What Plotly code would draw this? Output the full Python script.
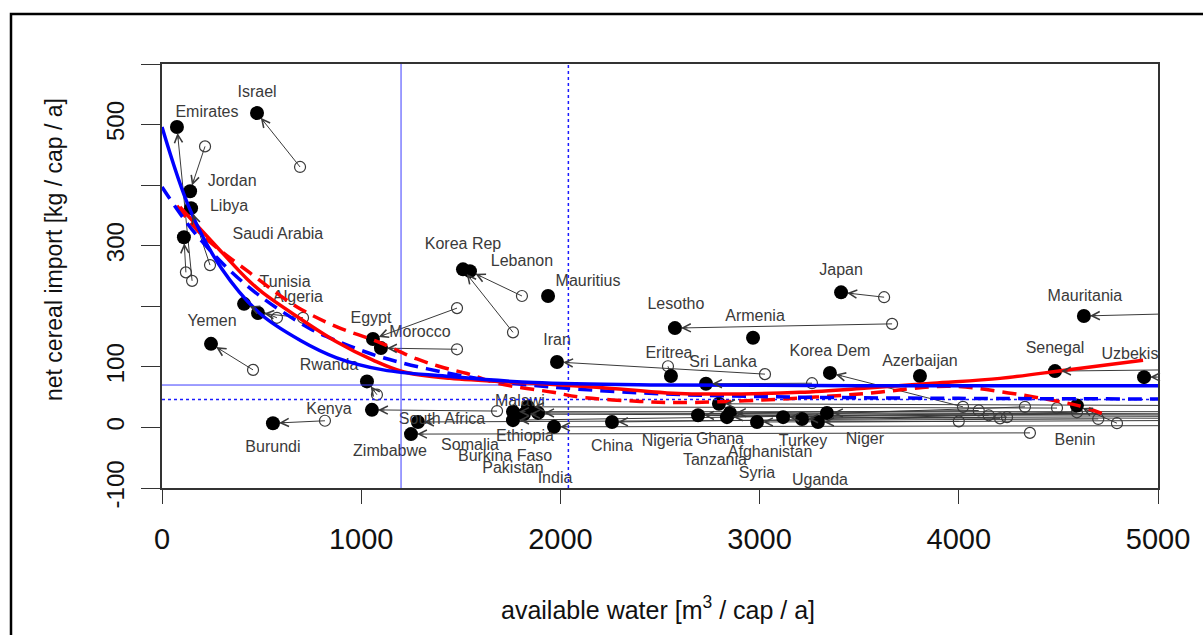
import plotly.graph_objects as go

# ---------------- data ----------------
countries = ["Emirates", "Israel", "Jordan", "Libya", "Saudi Arabia", "Tunisia", "Algeria", "Yemen",
             "Egypt", "Morocco", "Rwanda", "Kenya", "Burundi", "South Africa", "Zimbabwe",
             "Korea Rep", "Lebanon", "Mauritius", "Iran", "Lesotho", "Armenia", "Eritrea", "Sri Lanka",
             "Japan", "Korea Dem", "Azerbaijan", "Mauritania", "Senegal", "Uzbekistan", "Benin",
             "Malawi", "Somalia", "Ethiopia", "Burkina Faso", "Pakistan", "India", "China",
             "Nigeria", "Tanzania", "Ghana", " ", "Syria", "Afghanistan", "Turkey", "Uganda", "Niger"]

# current state (filled points)
water_now = [75, 477, 141, 146, 110, 412, 482, 246,
             1059, 1099, 1029, 1054, 557, 1285, 1250,
             1511, 1546, 1938, 1983, 2575, 2967, 2555, 2731,
             3409, 3353, 3805, 4628, 4483, 4930, 4593,
             1837, 1762, 1762, 1888, 1817, 1968, 2259,
             2691, 2796, 2836, 2851, 2987, 3118, 3213, 3293, 3338]
import_now = [496, 519, 390, 362, 314, 204, 189, 138,
              146, 131, 76, 29, 7, 9, -11,
              261, 258, 217, 108, 164, 148, 85, 72,
              223, 90, 85, 184, 93, 83, 36,
              34, 26, 12, 24, 22, 1, 9,
              20, 39, 17, 24, 9, 17, 14, 9, 24]

# earlier state (open points); None = not shown
water_past = [151, 693, 216, 241, 120, 577, 708, 457,
              1481, 1481, 1079, 1682, 818, 4700, 4357,
              1762, 1807, None, 3027, 3665, None, 2540, 3263,
              3625, 4021, None, 5600, 5600, 5400, 4794,
              4493, 5400, 4593, 5600, 5300, 5200, 4242,
              4207, 5300, 4332, 4100, 4000, 5200, 4150, 5500, 5700]
import_past = [242, 430, 464, 268, 256, 181, 181, 95,
               197, 129, 54, 27, 11, 14, -9,
               157, 217, None, 88, 171, None, 101, 73,
               215, 34, None, 192, 97, 84, 7,
               32, 26, 25, 20, 18, 3, 17,
               15, 36, 34, 28, 10, 15, 20, 12, 22]

# fitted curves
blue_solid_x = [0, 140, 300, 492, 693, 877, 1111, 1446, 1865, 2500, 3500, 5000]
blue_solid_y = [496, 360, 262, 188, 144, 115, 95, 84, 74, 70, 69, 69]
blue_dash_x = [0, 150, 316, 492, 743, 877, 1111, 1446, 1782, 2400, 3000, 4000, 5000]
blue_dash_y = [397, 327, 267, 217, 163, 143, 115, 89, 72, 57, 51, 48, 47]
red_solid_x = [90, 256, 427, 507, 678, 878, 1059, 1210, 1446, 1865, 2199, 2535, 2800, 3203, 3539, 3870, 4207, 4543, 4925]
red_solid_y = [364, 305, 245, 222, 183, 141, 111, 92, 81, 73, 66, 57, 55, 58, 65, 73, 81, 95, 111]
red_dash_x = [75, 200, 442, 678, 878, 1079, 1280, 1411, 1531, 1697, 1963, 2098, 2400, 2600, 3000, 3500, 3950, 4250, 4450, 4600, 4720]
red_dash_y = [366, 318, 255, 199, 166, 142, 113, 99, 89, 72, 58, 50, 43, 41, 45, 55, 68, 57, 46, 36, 23]

# reference lines
vline_solid = 1200
vline_dot = 2040
hline_solid = 70
hline_dot = 46

x_ticks = [0, 1000, 2000, 3000, 4000, 5000]
y_ticks = [-100, 0, 100, 200, 300, 400, 500, 600]
y_ticktext = ["-100", "0", "100", "", "300", "", "500", ""]

# label offsets in screen pixels relative to the filled point (style/position info)
label_dx = [30, 0, 42, 38, 94, 41, 40, 1,
            -2, 39, -38, -43, 0, 24, -21,
            0, 52, 40, 0, 1, 2, -2, 17,
            0, 0, 0, 1, 0, -3, -2,
            -8, -43, 12, -33, -11, 1, 0,
            -31, -4, -7, 0, 0, -13, 1, 2, 38]
label_dy = [-14, -20, -9, -1, -2, -21, -15, -22,
            -20, -15, -15, 0, 25, -2, 18,
            -24, -9, -14, -21, -23, -21, -22, -21,
            -21, -21, -14, -19, -22, -22, 35,
            -5, 34, 17, 44, 55, 52, 25,
            27, 57, 23, 0, 52, 36, 23, 59, 27]

# ---------------- geometry ----------------
W, H = 1203, 635
ML, MR, MT, MB = 162, 45, 64, 147
X0, X1 = 0, 5000
Y0, Y1 = -100, 600
PW, PH = W - ML - MR, H - MT - MB
PX_X = PW / (X1 - X0)
PX_Y = PH / (Y1 - Y0)

fig = go.Figure()

# arrow shafts (clipped to the plot area)
for xf, yf, xo, yo in zip(water_now, import_now, water_past, import_past):
    if xo is None:
        continue
    fig.add_trace(go.Scatter(x=[xo, xf], y=[yo, yf], mode="lines",
                             line=dict(color="#3a3a3a", width=1), hoverinfo="skip", showlegend=False))

# open points
fig.add_trace(go.Scatter(x=[v for v in water_past if v is not None],
                         y=[v for v in import_past if v is not None],
                         mode="markers",
                         marker=dict(symbol="circle-open", size=11, color="#3a3a3a", line=dict(width=1.2)),
                         hoverinfo="skip", showlegend=False))

# arrow heads
annotations = []
for xf, yf, xo, yo in zip(water_now, import_now, water_past, import_past):
    if xo is None:
        continue
    dxp = (xo - xf) * PX_X
    dyp = -(yo - yf) * PX_Y
    L = (dxp ** 2 + dyp ** 2) ** 0.5
    if L == 0:
        continue
    k = min(14, L) / L
    annotations.append(dict(x=xf, y=yf, xref="x", yref="y", ax=dxp * k, ay=dyp * k,
                            axref="pixel", ayref="pixel", text="", showarrow=True,
                            arrowhead=5, arrowsize=1.6, arrowwidth=1, arrowcolor="#3a3a3a",
                            standoff=6))

# filled points
fig.add_trace(go.Scatter(x=water_now, y=import_now, mode="markers",
                         marker=dict(symbol="circle", size=14, color="black"),
                         hoverinfo="skip", showlegend=False))

# country labels (clipped like R)
lab_x = [xf + dx / PX_X for xf, dx in zip(water_now, label_dx)]
lab_y = [yf - dy / PX_Y for yf, dy in zip(import_now, label_dy)]
fig.add_trace(go.Scatter(x=lab_x, y=lab_y, mode="text", text=countries,
                         textposition="middle center",
                         textfont=dict(family="Liberation Sans, Arial", size=16, color="#3a3a3a"),
                         hoverinfo="skip", showlegend=False))

# reference lines
fig.add_trace(go.Scatter(x=[vline_solid, vline_solid], y=[Y0, Y1], mode="lines",
                         line=dict(color="#3c3cff", width=1), hoverinfo="skip", showlegend=False))
fig.add_trace(go.Scatter(x=[vline_dot, vline_dot], y=[Y0, Y1], mode="lines",
                         line=dict(color="#1a1aff", width=1.5, dash="3px,3px"), hoverinfo="skip", showlegend=False))
fig.add_trace(go.Scatter(x=[X0, X1], y=[hline_solid, hline_solid], mode="lines",
                         line=dict(color="#3c3cff", width=1), hoverinfo="skip", showlegend=False))
fig.add_trace(go.Scatter(x=[X0, X1], y=[hline_dot, hline_dot], mode="lines",
                         line=dict(color="#1a1aff", width=1.5, dash="3px,3px"), hoverinfo="skip", showlegend=False))

# fitted curves
fig.add_trace(go.Scatter(x=red_dash_x, y=red_dash_y, mode="lines", line_shape="spline",
                         line=dict(color="#ff0000", width=3.5, dash="14px,8px"), hoverinfo="skip", showlegend=False))
fig.add_trace(go.Scatter(x=blue_dash_x, y=blue_dash_y, mode="lines", line_shape="spline",
                         line=dict(color="#0000ff", width=3.5, dash="14px,8px"), hoverinfo="skip", showlegend=False))
fig.add_trace(go.Scatter(x=red_solid_x, y=red_solid_y, mode="lines", line_shape="spline",
                         line=dict(color="#ff0000", width=3.5), hoverinfo="skip", showlegend=False))
fig.add_trace(go.Scatter(x=blue_solid_x, y=blue_solid_y, mode="lines", line_shape="spline",
                         line=dict(color="#0000ff", width=3.5), hoverinfo="skip", showlegend=False))

# axis titles
annotations.append(dict(text="available water [m<sup>3</sup> / cap / a]", xref="paper", yref="paper",
                        x=(658 - ML) / PW, y=(H - MB - 608) / PH,
                        showarrow=False, xanchor="center", yanchor="middle",
                        font=dict(family="Liberation Sans, Arial", size=25, color="#111111")))
annotations.append(dict(text="net cereal import [kg / cap / a]", xref="paper", yref="paper",
                        x=(54 - ML) / PW, y=(H - MB - 250) / PH,
                        showarrow=False, textangle=-90, xanchor="center", yanchor="middle",
                        font=dict(family="Liberation Sans, Arial", size=23, color="#111111")))

shapes = [dict(type="rect", xref="paper", yref="paper",
               x0=(11 - ML) / PW, x1=(W + 20 - ML) / PW,
               y0=(H - MB - (H + 20)) / PH, y1=(H - MB - 14) / PH,
               line=dict(color="black", width=2.5), fillcolor="rgba(0,0,0,0)", layer="above")]

fig.update_layout(
    width=W, height=H,
    margin=dict(l=ML, r=MR, t=MT, b=MB, pad=0),
    paper_bgcolor="white", plot_bgcolor="white",
    annotations=annotations, shapes=shapes,
    xaxis=dict(range=[X0, X1], tickvals=x_ticks, ticks="outside", ticklen=14, tickwidth=1,
               tickcolor="#333333", showline=True, linecolor="#333333", linewidth=1.5, mirror=True,
               showgrid=False, zeroline=False, ticklabelstandoff=10,
               tickfont=dict(family="Liberation Sans, Arial", size=29, color="#111111")),
    yaxis=dict(range=[Y0, Y1], tickvals=y_ticks, ticktext=y_ticktext, ticks="outside", ticklen=19,
               tickwidth=1, tickcolor="#333333", showline=True, linecolor="#333333", linewidth=1.5,
               mirror=True, showgrid=False, zeroline=False, tickangle=-90, ticklabelstandoff=8,
               tickfont=dict(family="Liberation Sans, Arial", size=24, color="#111111")),
)

fig.write_html("out.html", config={"displayModeBar": False},
               post_script="document.body.style.margin='0px';document.body.style.overflow='hidden';")
